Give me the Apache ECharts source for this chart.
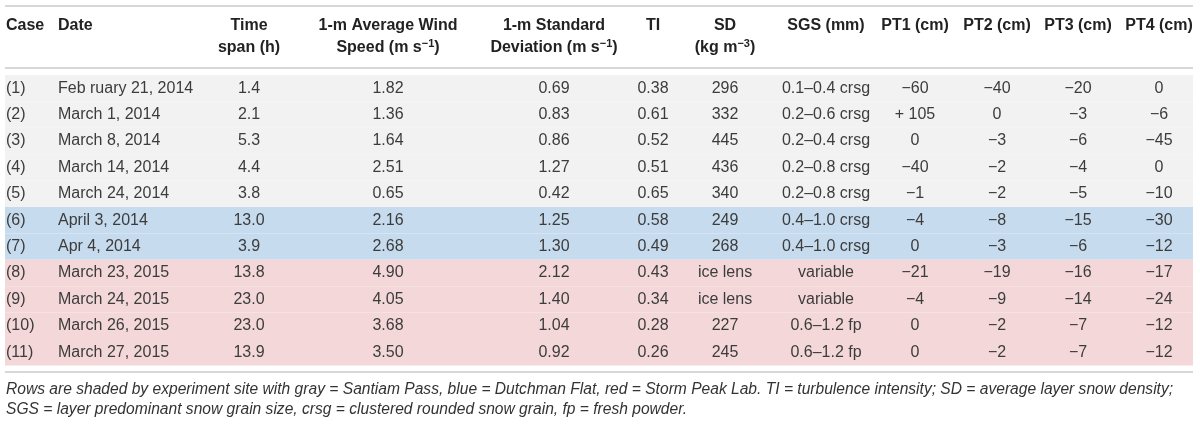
<!DOCTYPE html>
<html>
<head>
<meta charset="utf-8">
<script src="https://cdn.jsdelivr.net/npm/echarts@6/dist/echarts.min.js"></script>
<style>
  html, body { margin: 0; padding: 0; background: #ffffff; }
  #chart { width: 1200px; height: 425px; }
</style>
</head>
<body>
<div id="chart"></div>
<script>
// ---- data ----
const cases = ['(1)', '(2)', '(3)', '(4)', '(5)', '(6)', '(7)', '(8)', '(9)', '(10)', '(11)'];
const dates = ['Feb ruary 21, 2014', 'March 1, 2014', 'March 8, 2014', 'March 14, 2014', 'March 24, 2014',
  'April 3, 2014', 'Apr 4, 2014', 'March 23, 2015', 'March 24, 2015', 'March 26, 2015', 'March 27, 2015'];
const timeSpan = [1.4, 2.1, 5.3, 4.4, 3.8, 13.0, 3.9, 13.8, 23.0, 23.0, 13.9];
const windSpeed = [1.82, 1.36, 1.64, 2.51, 0.65, 2.16, 2.68, 4.90, 4.05, 3.68, 3.50];
const windStd = [0.69, 0.83, 0.86, 1.27, 0.42, 1.25, 1.30, 2.12, 1.40, 1.04, 0.92];
const turbIntensity = [0.38, 0.61, 0.52, 0.51, 0.65, 0.58, 0.49, 0.43, 0.34, 0.28, 0.26];
const snowDensity = ['296', '332', '445', '436', '340', '249', '268', 'ice lens', 'ice lens', '227', '245'];
const grainSize = ['0.1–0.4 crsg', '0.2–0.6 crsg', '0.2–0.4 crsg', '0.2–0.8 crsg', '0.2–0.8 crsg',
  '0.4–1.0 crsg', '0.4–1.0 crsg', 'variable', 'variable', '0.6–1.2 fp', '0.6–1.2 fp'];
const pt1 = [-60, 105, 0, -40, -1, -4, 0, -21, -4, 0, 0];
const pt2 = [-40, 0, -3, -2, -2, -8, -3, -19, -9, -2, -2];
const pt3 = [-20, -3, -6, -4, -5, -15, -6, -16, -14, -7, -7];
const pt4 = [0, -6, -45, 0, -10, -30, -12, -17, -24, -12, -12];
const site = [0, 0, 0, 0, 0, 1, 1, 2, 2, 2, 2]; // 0 Santiam Pass, 1 Dutchman Flat, 2 Storm Peak Lab
const headers = [
  ['Case'], ['Date'], ['Time', 'span (h)'], ['1-m Average Wind', 'Speed (m s{sup|−1})'],
  ['1-m Standard', 'Deviation (m s{sup|−1})'], ['TI'], ['SD', '(kg m{sup|−3})'], ['SGS (mm)'],
  ['PT1 (cm)'], ['PT2 (cm)'], ['PT3 (cm)'], ['PT4 (cm)']
];
const captionLines = [
  'Rows are shaded by experiment site with gray = Santiam Pass, blue = Dutchman Flat, red = Storm Peak Lab. TI = turbulence intensity; SD = average layer snow density;',
  'SGS = layer predominant snow grain size, crsg = clustered rounded snow grain, fp = fresh powder.'
];

// ---- layout / style ----
const colX = [6, 58, 249, 388, 554, 653, 725, 826, 915, 997, 1078, 1159];
const colAlign = ['left', 'left', 'center', 'center', 'center', 'center', 'center', 'center', 'center', 'center', 'center', 'center'];
const siteColors = ['#f2f2f2', '#c7dbee', '#f4d8d9'];
const FONT = '"Liberation Sans", Arial, Helvetica, sans-serif';
const tableLeft = 5, tableRight = 1193;

function fmtPT(v) {
  if (v < 0) return '−' + Math.abs(v);
  if (v > 0) return '+ ' + v;
  return '0';
}

const columnText = [
  cases,
  dates,
  timeSpan.map(v => v.toFixed(1)),
  windSpeed.map(v => v.toFixed(2)),
  windStd.map(v => v.toFixed(2)),
  turbIntensity.map(v => v.toFixed(2)),
  snowDensity,
  grainSize,
  pt1.map(fmtPT), pt2.map(fmtPT), pt3.map(fmtPT), pt4.map(fmtPT)
];

const cellData = [];
const cellText = [];
const cellAlign = [];
for (let r = 0; r < cases.length; r++) {
  for (let c = 0; c < columnText.length; c++) {
    cellData.push([colX[c], r]);
    cellText.push(columnText[c][r]);
    cellAlign.push(colAlign[c]);
  }
}
const bandData = cases.map((_, i) => [tableLeft, i, site[i]]);

// header + caption graphics
const graphics = [];
[6, 68, 372].forEach(y => {
  graphics.push({ type: 'line', shape: { x1: tableLeft, y1: y, x2: tableRight, y2: y },
    style: { stroke: '#d7d7d7', lineWidth: 2 }, silent: true });
});
headers.forEach((lines, c) => {
  lines.forEach((t, li) => {
    graphics.push({
      type: 'text', x: colX[c], y: li === 0 ? 26 : 48, silent: true,
      style: {
        text: t, align: colAlign[c], verticalAlign: 'middle',
        fill: '#222', fontSize: 16, fontWeight: 'bold', fontFamily: FONT,
        rich: { sup: { fontSize: 11, fontWeight: 'bold', fontFamily: FONT, fill: '#222', padding: [0, 0, 8, 0] } }
      }
    });
  });
});
captionLines.forEach((t, i) => {
  graphics.push({
    type: 'text', x: 6, y: 390 + i * 19.5, silent: true,
    style: { text: t, align: 'left', verticalAlign: 'middle', fill: '#333',
      fontSize: 15.6, fontStyle: 'italic', fontFamily: FONT }
  });
});

const chart = echarts.init(document.getElementById('chart'), null, { renderer: 'canvas' });
chart.setOption({
  animation: false,
  backgroundColor: '#ffffff',
  grid: { left: 0, right: 0, top: 75, height: 290.4, containLabel: false },
  xAxis: { type: 'value', min: 0, max: 1200, show: false },
  yAxis: { type: 'category', data: cases, inverse: true, show: false },
  graphic: graphics,
  series: [
    {
      type: 'custom', name: 'bands', data: bandData, silent: true, z: 1,
      renderItem: function (params, api) {
        const p0 = api.coord([api.value(0), api.value(1)]);
        const p1 = api.coord([tableRight, api.value(1)]);
        const h = api.size([0, 1])[1];
        return { type: 'rect', shape: { x: p0[0], y: p0[1] - h / 2, width: p1[0] - p0[0], height: h },
          style: { fill: siteColors[api.value(2)] } };
      }
    },
    {
      type: 'custom', name: 'cells', data: cellData, silent: true, z: 2,
      renderItem: function (params, api) {
        const p = api.coord([api.value(0), api.value(1)]);
        return { type: 'text', x: p[0], y: p[1],
          style: { text: cellText[params.dataIndex], align: cellAlign[params.dataIndex], verticalAlign: 'middle',
            fill: '#3c3c3c', fontSize: 16, fontFamily: FONT } };
      }
    }
  ]
});
</script>
</body>
</html>
